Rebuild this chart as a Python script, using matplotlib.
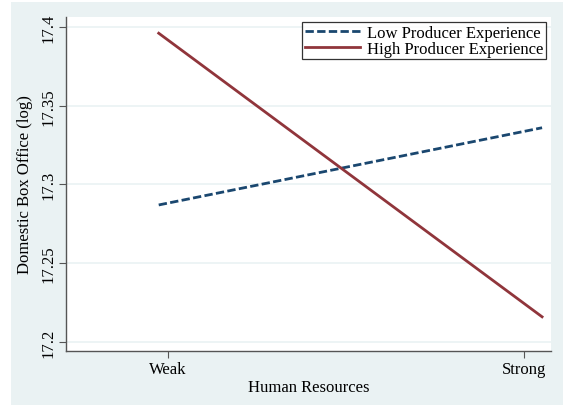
import matplotlib.pyplot as plt
from matplotlib.patches import Rectangle

# data
tick_pos = [-1, 1]
tick_labels = ['Weak', 'Strong']
x_vals = [-1.05, 1.1]
low_exp = [17.287, 17.336]
high_exp = [17.396, 17.216]
y_ticks = [17.2, 17.25, 17.3, 17.35, 17.4]
y_tick_labels = ['17.2', '17.25', '17.3', '17.35', '17.4']

plt.rcParams['font.family'] = ['Liberation Serif', 'DejaVu Serif']

bg = '#EAF2F3'
navy = '#1A476F'
maroon = '#90353B'
fs = 12

fig = plt.figure(figsize=(5.63, 4.06), dpi=100)
fig.patch.set_facecolor('white')
fig.patches.append(Rectangle((11 / 563, 0), 1 - 11 / 563, 1 - 3 / 406,
                             transform=fig.transFigure, facecolor=bg,
                             edgecolor='none', zorder=-10))

ax = fig.add_axes([66 / 563, 1 - 352 / 406, 485 / 563, 334 / 406])
ax.set_facecolor('white')

ax.plot(x_vals, low_exp, color=navy, lw=2.0, dashes=(3.0, 1.2),
        dash_capstyle='butt', label='Low Producer Experience')
ax.plot(x_vals, high_exp, color=maroon, lw=2.0,
        label='High Producer Experience')

ax.set_xlim(-1.57, 1.15)
ax.set_ylim(17.1943, 17.4063)
ax.set_xticks(tick_pos)
ax.set_xticklabels(tick_labels, fontsize=fs)
ax.set_yticks(y_ticks)
ax.set_yticklabels(y_tick_labels, fontsize=fs, rotation=90, va='center')

ax.yaxis.grid(True, color=bg, lw=1.2)
ax.set_axisbelow(True)

for side in ['top', 'right']:
    ax.spines[side].set_visible(False)
for side in ['left', 'bottom']:
    ax.spines[side].set_color('#555555')
    ax.spines[side].set_linewidth(1.0)
ax.tick_params(direction='out', length=5, width=0.8, color='#555555',
               labelcolor='black', pad=2)

ax.set_xlabel('Human Resources', fontsize=fs, labelpad=2)
ax.set_ylabel('Domestic Box Office (log)', fontsize=fs, labelpad=5)

leg = ax.legend(loc='upper right', bbox_to_anchor=(0.99, 0.985),
                fontsize=fs, frameon=True, fancybox=False,
                handlelength=3.3, handletextpad=0.45, borderpad=0.15,
                labelspacing=0.0, borderaxespad=0)
leg.get_frame().set_edgecolor('black')
leg.get_frame().set_linewidth(0.9)

plt.savefig('out.png', dpi=100)
